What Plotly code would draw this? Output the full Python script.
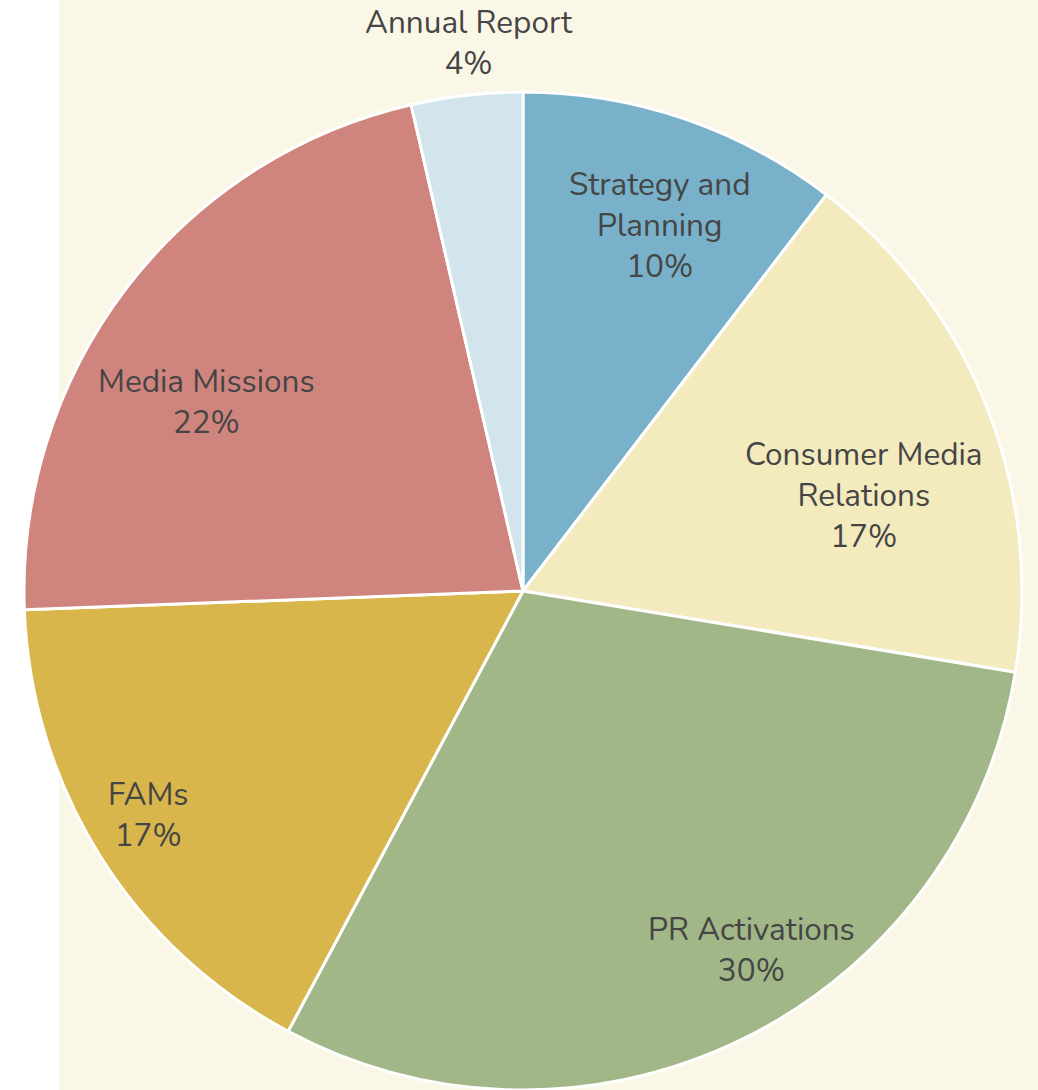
import math
import plotly.graph_objects as go

# Share of effort by programme area
categories = ["Strategy and Planning", "Consumer Media Relations", "PR Activations",
              "FAMs", "Media Missions", "Annual Report"]
values = [10.4, 17.2, 30.2, 16.6, 22.0, 3.6]
colors = ["#78B1C9", "#F3EBBE", "#A1B787", "#D8B64C", "#CF847E", "#D2E4EC"]

# Label text wrapping and placement (radius fraction, nudge in degrees off the slice bisector)
label_lines = ["Strategy and<br>Planning", "Consumer Media<br>Relations", "PR Activations",
               "FAMs", "Media Missions", "Annual Report"]
label_radius = [0.783, 0.71, 0.853, 0.874, 0.738, 1.103]
label_nudge = [1.8, 5.9, -6.2, 1.2, -6.6, 0.8]

W, H = 1038, 1090
M_L, M_R, M_T, M_B = 23, 15, 92, 0
plot_w, plot_h = W - M_L - M_R, H - M_T - M_B
radius_px = min(plot_w, plot_h) / 2
cx_px = M_L + plot_w / 2
cy_px = M_T + plot_h / 2

fig = go.Figure(
    go.Pie(
        labels=categories,
        values=values,
        sort=False,
        direction="clockwise",
        rotation=0,
        marker=dict(colors=colors, line=dict(color="#FFFFFF", width=3)),
        textinfo="none",
        showlegend=False,
        hoverinfo="label+percent",
    )
)

font = dict(family="Nunito, Lato, sans-serif", size=31.5, color="#454545")
total = sum(values)
annotations = []
cum = 0.0
for name, v, r_frac, nudge in zip(label_lines, values, label_radius, label_nudge):
    mid = (cum + v / 2) / total * 360.0 + nudge
    cum += v
    px = cx_px + r_frac * radius_px * math.sin(math.radians(mid))
    py = cy_px - r_frac * radius_px * math.cos(math.radians(mid))
    pct = round(v / total * 100)
    annotations.append(dict(
        text=f"{name}<br>{pct}%",
        x=(px - M_L) / plot_w, y=(H - M_B - py) / plot_h,
        xref="paper", yref="paper", xanchor="center", yanchor="middle",
        showarrow=False, font=font, align="center",
    ))

fig.update_layout(
    width=W,
    height=H,
    margin=dict(l=M_L, r=M_R, t=M_T, b=M_B),
    paper_bgcolor="#FFFFFF",
    annotations=annotations,
    shapes=[
        dict(type="rect", xref="paper", yref="paper", layer="below",
             x0=(59 - M_L) / plot_w, x1=(W - M_L) / plot_w, y0=-0.01, y1=1.1,
             fillcolor="#FAF7E6", line=dict(width=0)),
    ],
)

fig.write_html("out.html")
